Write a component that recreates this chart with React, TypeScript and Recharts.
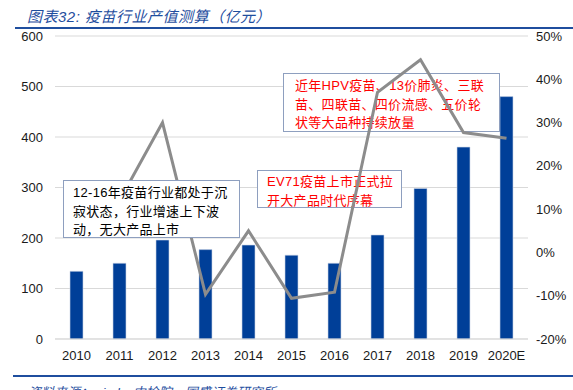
import React from 'react';
import { ComposedChart, Bar, Line, XAxis, YAxis, CartesianGrid } from 'recharts';

const years = ['2010', '2011', '2012', '2013', '2014', '2015', '2016', '2017', '2018', '2019', '2020E'];
// 疫苗行业产值（亿元）
const output = [134, 150, 196, 177, 186, 166, 150, 206, 298, 380, 480];
// 同比增速（%）
const growth = [null, 12, 30, -9.7, 5, -10.6, -9.2, 37, 44.5, 27.7, 26.4];
const leftTicks = [0, 100, 200, 300, 400, 500, 600];
const rightTicks = [-20, -10, 0, 10, 20, 30, 40, 50];

const data = years.map((y, i) => ({ year: y, output: output[i], growth: growth[i] }));

const W = 573;
const H = 390;
const CJK = '"Liberation Sans", Arial, "Noto Sans CJK SC", sans-serif';
const BLUE = '#1f4e9e';
const tick = { fill: '#1a1a1a', fontSize: 13, fontFamily: CJK };
// half of one category band, so the line points sit on the bar centres
const HALF_BAND = (W - 55 - 45) / years.length / 2;

const boxBase: React.CSSProperties = {
  position: 'absolute',
  background: '#fff',
  border: '1px solid #8e9fbf',
  fontFamily: CJK,
  fontSize: 13,
  lineHeight: '18.5px',
  boxSizing: 'border-box',
  letterSpacing: 0.3,
};

export default function App() {
  return (
    <div style={{ position: 'absolute', left: 0, top: 0, width: W, height: H, background: '#fff', overflow: 'hidden' }}>
      <div
        style={{
          position: 'absolute', left: 27, top: 5, fontSize: 15, fontStyle: 'italic',
          color: BLUE, fontFamily: CJK, letterSpacing: 0.5, whiteSpace: 'nowrap',
        }}
      >
        图表32: 疫苗行业产值测算（亿元）
      </div>
      <div style={{ position: 'absolute', left: 15, top: 27, width: W - 15, height: 2, background: BLUE }} />

      {/* bars, grid, axes */}
      <div style={{ position: 'absolute', left: 0, top: 0 }}>
        <ComposedChart width={W} height={H} data={data} margin={{ top: 36, right: 0, left: 0, bottom: 31 }}>
          <CartesianGrid yAxisId="left" vertical={false} stroke="#d9d9d9" />
          <XAxis dataKey="year" tick={tick} tickLine={false} axisLine={{ stroke: '#d9d9d9' }} tickMargin={6} height={20} interval={0} />
          <YAxis
            yAxisId="left" domain={[0, 600]} ticks={leftTicks} width={55}
            tick={tick} tickLine={false} axisLine={false} tickMargin={6}
          />
          <YAxis
            yAxisId="right" orientation="right" domain={[-20, 50]} ticks={rightTicks} width={45}
            tick={tick} tickLine={false} axisLine={false} tickFormatter={(v: number) => `${v}%`}
          />
          <Bar yAxisId="left" dataKey="output" fill="#003f98" stroke="#c9d3e6" strokeWidth={0.6} barSize={13} isAnimationActive={false} />
          {/* invisible copy so the right axis has a series */}
          <Line yAxisId="right" dataKey="growth" stroke="none" dot={false} activeDot={false} isAnimationActive={false} />
        </ComposedChart>
      </div>

      {/* boxes under the growth line */}
      <div style={{ ...boxBase, left: 283, top: 73, width: 217, height: 59, color: '#ff0000', padding: '3px 0 0 11px' }}>
        近年HPV疫苗、13价肺炎、三联
        <br />
        苗、四联苗、四价流感、五价轮
        <br />
        状等大品种持续放量
      </div>
      <div style={{ ...boxBase, left: 257, top: 170, width: 145, height: 38, color: '#ff0000', padding: '2px 0 0 9px' }}>
        EV71疫苗上市正式拉
        <br />
        开大产品时代序幕
      </div>

      {/* growth line */}
      <div style={{ position: 'absolute', left: 0, top: 0 }}>
        <ComposedChart width={W} height={H} data={data} margin={{ top: 36, right: 45, left: 55, bottom: 51 }}>
          <XAxis dataKey="year" hide padding={{ left: HALF_BAND, right: HALF_BAND }} />
          <YAxis yAxisId="right" domain={[-20, 50]} hide />
          <Line
            yAxisId="right" dataKey="growth" type="linear" stroke="#8c8c8c" strokeWidth={3}
            dot={false} isAnimationActive={false}
          />
        </ComposedChart>
      </div>

      <div style={{ ...boxBase, left: 63, top: 180, width: 177, height: 58, color: '#000', padding: '3px 0 0 9px' }}>
        12-16年疫苗行业都处于沉
        <br />
        寂状态，行业增速上下波
        <br />
        动，无大产品上市
      </div>

      <div style={{ position: 'absolute', left: 13, top: 375, width: W - 13, height: 2, background: BLUE }} />
      <div
        style={{
          position: 'absolute', left: 28, top: 382, fontSize: 13, fontStyle: 'italic',
          color: BLUE, fontFamily: CJK, whiteSpace: 'nowrap',
        }}
      >
        资料来源：wind，中检院，国盛证券研究所
      </div>
    </div>
  );
}
